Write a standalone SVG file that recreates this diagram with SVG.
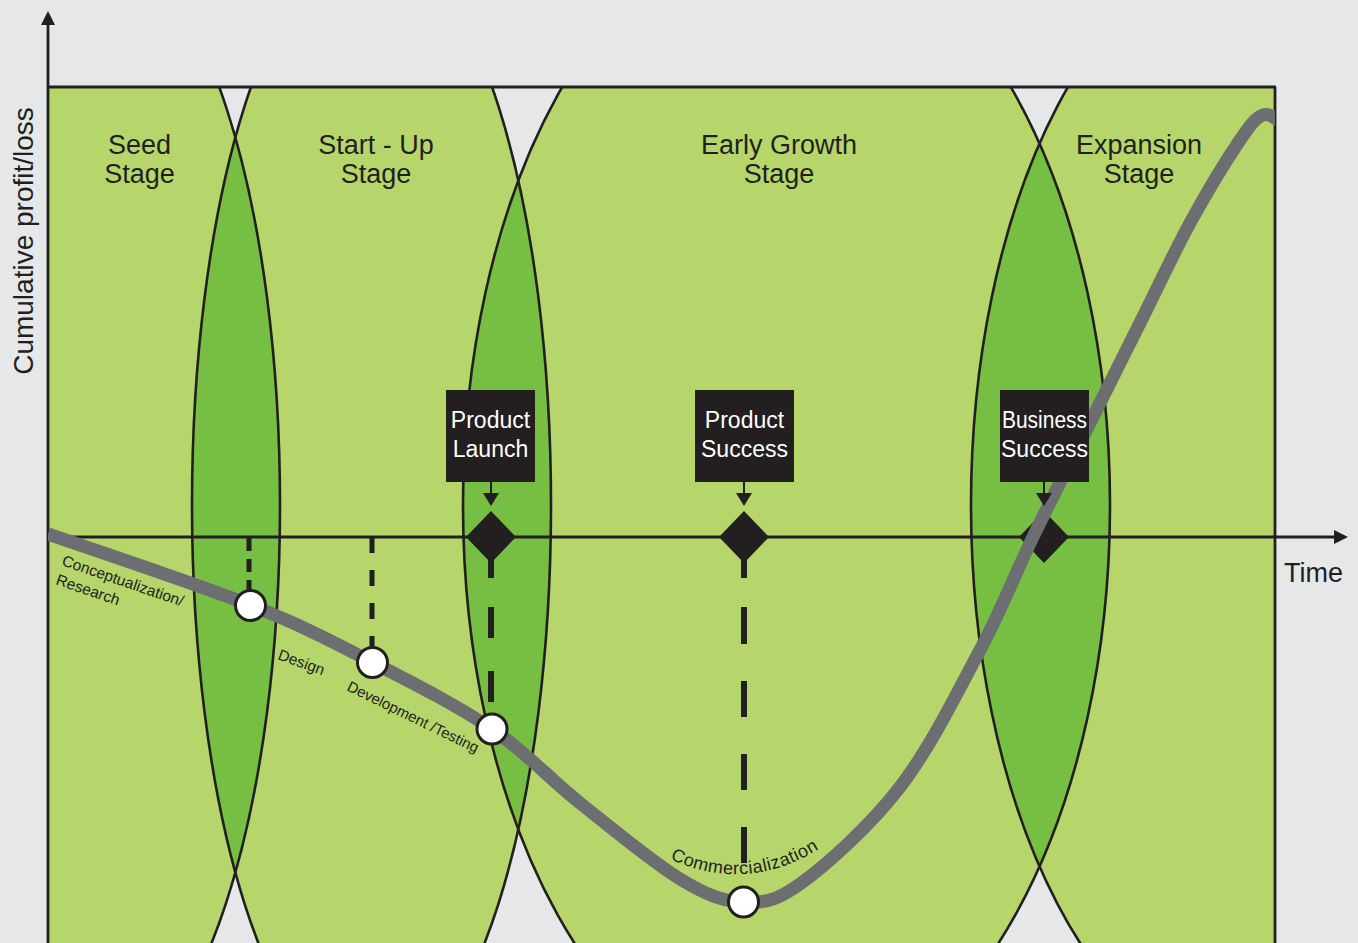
<svg xmlns="http://www.w3.org/2000/svg" width="1358" height="943" viewBox="0 0 1358 943">
<style>
.lt{fill:#b6d66b}
.dk{fill:#76bf43}
.ol{fill:none;stroke:#231f20;stroke-width:2.6}
.ax{stroke:#231f20;stroke-width:2.8;fill:none}
.blk{fill:#231f20}
.stage{font-family:"Liberation Sans",Arial,sans-serif;font-size:27px;fill:#231f20;text-anchor:middle}
.box{font-family:"Liberation Sans",Arial,sans-serif;font-size:23px;fill:#ffffff;text-anchor:middle}
.sm{font-family:"Liberation Sans",Arial,sans-serif;font-size:15px;fill:#231f20}
.axl{font-family:"Liberation Sans",Arial,sans-serif;font-size:28px;fill:#231f20}
.dash{stroke:#231f20;fill:none}
.pt{fill:#ffffff;stroke:#231f20;stroke-width:3}
</style>
<defs>
<clipPath id="plot"><rect x="48" y="87" width="1227" height="900"/></clipPath>
<clipPath id="cSeed"><ellipse cx="95" cy="505" rx="185" ry="564"/></clipPath>
<clipPath id="cStart"><ellipse cx="371.5" cy="505" rx="179.5" ry="564"/></clipPath>
<clipPath id="cEarly"><ellipse cx="786.5" cy="505" rx="323.5" ry="580"/></clipPath>
</defs>
<rect x="0" y="0" width="1358" height="943" fill="#e6e7e8"/>
<g id="stages" clip-path="url(#plot)">
<g id="seed-stage">
<ellipse class="lt" cx="95" cy="505" rx="185" ry="564"/>
</g>
<g id="startup-stage">
<ellipse class="lt" cx="371.5" cy="505" rx="179.5" ry="564"/>
</g>
<g id="early-growth-stage">
<ellipse class="lt" cx="786.5" cy="505" rx="323.5" ry="580"/>
</g>
<g id="expansion-stage">
<ellipse class="lt" cx="1266" cy="505" rx="295" ry="564"/>
</g>
<g id="overlaps">
<ellipse class="dk" cx="371.5" cy="505" rx="179.5" ry="564" clip-path="url(#cSeed)"/>
<ellipse class="dk" cx="786.5" cy="505" rx="323.5" ry="580" clip-path="url(#cStart)"/>
<ellipse class="dk" cx="1266" cy="505" rx="295" ry="564" clip-path="url(#cEarly)"/>
</g>
<g id="outlines">
<ellipse class="ol" cx="95" cy="505" rx="185" ry="564"/>
<ellipse class="ol" cx="371.5" cy="505" rx="179.5" ry="564"/>
<ellipse class="ol" cx="786.5" cy="505" rx="323.5" ry="580"/>
<ellipse class="ol" cx="1266" cy="505" rx="295" ry="564"/>
</g>
</g>
<g id="frame">
<line class="ax" x1="48" y1="87" x2="1276" y2="87"/>
<line class="ax" x1="1275" y1="87" x2="1275" y2="943"/>
</g>
<g id="axes">
<line class="ax" x1="48" y1="22" x2="48" y2="943"/>
<polygon class="blk" points="48,11 41,25 55,25"/>
<line class="ax" x1="48" y1="537" x2="1336" y2="537"/>
<polygon class="blk" points="1348,537 1334,530 1334,544"/>
</g>
<g id="connectors">
<line class="dash" x1="249" y1="538" x2="249" y2="592" stroke-width="5" stroke-dasharray="13 8"/>
<line class="dash" x1="372" y1="537" x2="372" y2="647" stroke-width="5" stroke-dasharray="16 17"/>
<line class="dash" x1="491" y1="547" x2="491" y2="702" stroke-width="6" stroke-dasharray="31 29 31 33 31"/>
<line class="dash" x1="744" y1="544" x2="744" y2="863" stroke-width="6" stroke-dasharray="34 29 37 37 36 37 36 37 36"/>
</g>
<g id="milestones">
<polygon id="launch-diamond" class="blk" points="491,511 516,537 491,563 466,537"/>
<polygon id="success-diamond" class="blk" points="744,511 769,537 744,563 719,537"/>
<polygon id="business-diamond" class="blk" points="1044,511 1069,537 1044,563 1019,537"/>
</g>
<g id="curve" clip-path="url(#plot)">
<path fill="none" stroke="#6d6e71" stroke-width="13" d="M48,534 C81.7,545.8 196,583.7 250,605 C304,626.3 331.7,641.3 372,662 C412.3,682.7 457.3,705.5 492,729 C526.7,752.5 548.7,778.3 580,803 C611.3,828 652.8,862.5 680,879 C707.2,895.5 723,901.2 743,902 C763,902.8 773.8,902.7 800,884 C826.2,865.3 870,826 900,787 C930,748 957.8,691.7 980,650 C1002.2,608.3 1014.7,574.8 1033,537 C1051.3,499.2 1072.2,458.7 1090,423 C1107.8,387.3 1123.3,356.3 1140,323 C1156.7,289.7 1173.3,253.5 1190,223 C1206.7,192.5 1227.8,158 1240,140 C1252.2,122 1256,117.8 1263,115 C1270,112.2 1278.8,121.7 1282,123"/>
</g>
<g id="phase-points">
<circle class="pt" cx="250.5" cy="605.5" r="15"/>
<circle class="pt" cx="372.5" cy="662.5" r="15"/>
<circle class="pt" cx="492" cy="729" r="15"/>
<circle class="pt" cx="743.5" cy="902" r="15"/>
</g>
<g id="product-launch">
<rect class="blk" x="446" y="390" width="89" height="92"/>
<text class="box" x="490.5" y="428">Product</text>
<text class="box" x="490.5" y="457">Launch</text>
<line x1="491" y1="482" x2="491" y2="494" stroke="#231f20" stroke-width="2"/>
<polygon class="blk" points="483,493 499,493 491,506"/>
</g>
<g id="product-success">
<rect class="blk" x="695" y="390" width="99" height="92"/>
<text class="box" x="744.5" y="428">Product</text>
<text class="box" x="744.5" y="457">Success</text>
<line x1="744" y1="482" x2="744" y2="494" stroke="#231f20" stroke-width="2"/>
<polygon class="blk" points="736,493 752,493 744,506"/>
</g>
<g id="business-success">
<rect class="blk" x="1000" y="390" width="89" height="92"/>
<text class="box" x="1044.5" y="428" textLength="85" lengthAdjust="spacingAndGlyphs">Business</text>
<text class="box" x="1044.5" y="457">Success</text>
<line x1="1044" y1="482" x2="1044" y2="494" stroke="#231f20" stroke-width="2"/>
<polygon class="blk" points="1036,493 1052,493 1044,506"/>
</g>
<g id="stage-labels">
<text class="stage" x="139.5" y="154">Seed</text>
<text class="stage" x="139.5" y="183">Stage</text>
<text class="stage" x="376" y="154">Start - Up</text>
<text class="stage" x="376" y="183">Stage</text>
<text class="stage" x="779" y="154">Early Growth</text>
<text class="stage" x="779" y="183">Stage</text>
<text class="stage" x="1139" y="154">Expansion</text>
<text class="stage" x="1139" y="183">Stage</text>
</g>
<g id="axis-labels">
<text class="axl" x="1284" y="582" style="font-size:27px">Time</text>
<text class="axl" text-anchor="middle" transform="translate(33,241) rotate(-90)">Cumulative profit/loss</text>
</g>
<g id="phase-labels">
<text class="sm" style="font-size:15.5px" transform="translate(61,565) rotate(19)">Conceptualization/</text>
<text class="sm" style="font-size:15.5px" transform="translate(55,584) rotate(19)">Research</text>
<text class="sm" style="font-size:15.5px" transform="translate(277,659) rotate(20)">Design</text>
<text class="sm" style="font-size:15px" transform="translate(346,690) rotate(26)">Development /Testing</text>
<path id="arc" d="M650,848 Q745,906 838,836" fill="none"/>
<text class="sm" style="font-size:18px;letter-spacing:0.5px"><textPath href="#arc" startOffset="50%" text-anchor="middle">Commercialization</textPath></text>
</g>
</svg>
